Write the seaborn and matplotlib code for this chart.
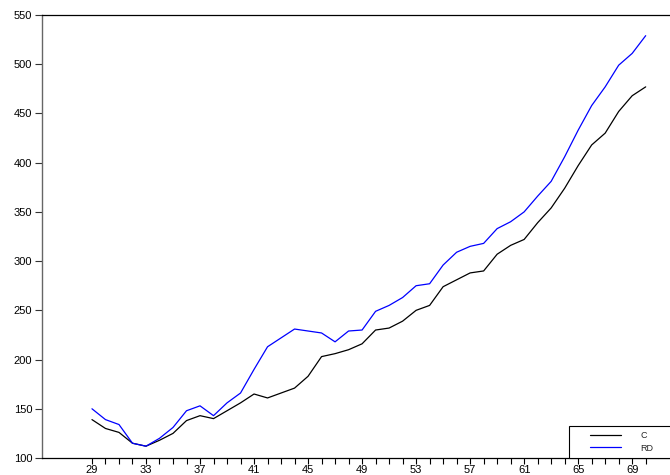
import pandas as pd
import matplotlib
matplotlib.use('Agg')
import matplotlib.pyplot as plt
import seaborn as sns
from matplotlib.patches import Rectangle
from matplotlib.ticker import FixedLocator

# Data
years = list(range(29, 71))
c_values = [139, 130, 126, 115, 112, 118, 125, 138, 143, 140,
            148, 156, 165, 161, 166, 171, 183, 203, 206, 210,
            216, 230, 232, 239, 250, 255, 274, 281, 288, 290,
            307, 316, 322, 339, 354, 374, 397, 418, 430, 452,
            468, 477]
rd_values = [150, 139, 134, 115, 112, 120, 131, 148, 153, 143,
             156, 166, 190, 213, 222, 231, 229, 227, 218, 229,
             230, 249, 255, 263, 275, 277, 296, 309, 315, 318,
             333, 340, 350, 366, 381, 406, 433, 458, 477, 499,
             511, 529]
series_names = ["C", "RD"]
y_ticks = [100, 150, 200, 250, 300, 350, 400, 450, 500, 550]
x_label_ticks = list(range(29, 71, 4))

df = pd.DataFrame({"year": years * 2,
                   "value": c_values + rd_values,
                   "series": ["C"] * len(years) + ["RD"] * len(years)})

sns.set_style("ticks")
plt.rcParams['font.family'] = ['Liberation Sans', 'DejaVu Sans']

fig = plt.figure(figsize=(6.7, 4.75), dpi=100)
ax = fig.add_axes([42 / 670, 1 - 458 / 475, 1 - 42 / 670, (458 - 15) / 475])

sns.lineplot(data=df, x="year", y="value", hue="series", hue_order=series_names,
             palette={"C": "black", "RD": "blue"}, linewidth=0.9, ax=ax)

ax.set_xlim(25.3, 71.8)
ax.set_ylim(100, 550)
ax.set_xlabel("")
ax.set_ylabel("")

ax.xaxis.set_major_locator(FixedLocator(x_label_ticks))
ax.xaxis.set_minor_locator(FixedLocator(years))
ax.set_yticks(y_ticks)
ax.tick_params(axis='x', which='both', direction='out', length=4.5, width=0.8,
               labelsize=8, pad=0.5, colors='black')
ax.tick_params(axis='y', which='major', direction='out', length=5, width=0.8,
               labelsize=8, pad=2, colors='#333333')
ax.tick_params(axis='y', labelcolor='black')

for side in ["top", "bottom"]:
    ax.spines[side].set_visible(True)
    ax.spines[side].set_color("black")
    ax.spines[side].set_linewidth(0.9)
ax.spines["left"].set_color("#666666")
ax.spines["left"].set_linewidth(1.0)
ax.spines["right"].set_visible(False)

# legend frame box running off the right edge, like the reference
box_x = (569 - 42) / 628
box_h = (458 - 426) / 443
ax.add_patch(Rectangle((box_x, 0), 0.3, box_h, transform=ax.transAxes,
                       facecolor='white', edgecolor='black', linewidth=0.8,
                       clip_on=False, zorder=4))

leg = ax.legend(loc='center left',
                bbox_to_anchor=((590 - 42) / 628, box_h / 2),
                borderaxespad=0, borderpad=0, fontsize=6.5, handlelength=3.4,
                handletextpad=2.2, labelspacing=0.35, frameon=False, title=None)
leg.set_zorder(5)

fig.savefig("out.png", dpi=100)
